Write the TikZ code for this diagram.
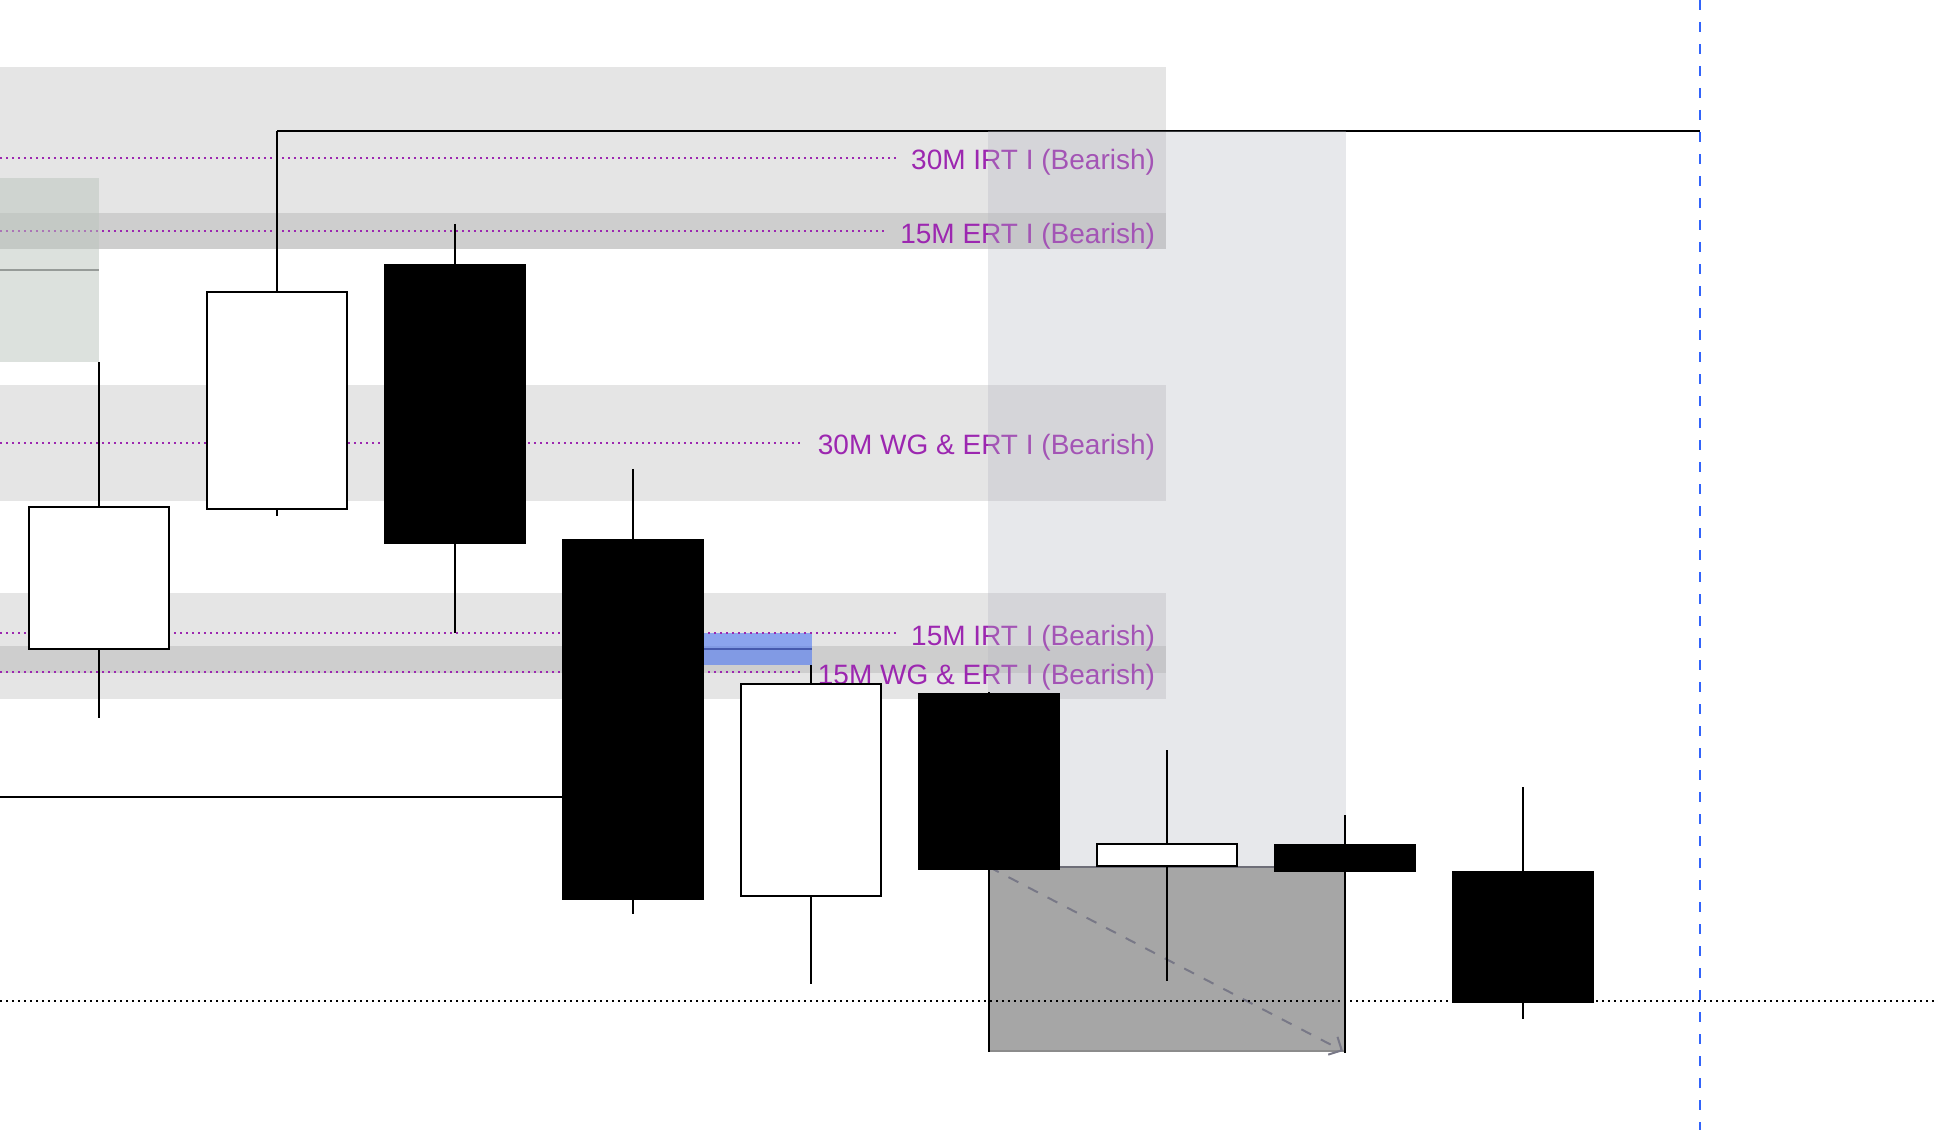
\documentclass[tikz,border=0pt]{standalone}
\usepackage{fontspec}
\setmainfont{Liberation Sans}
\usetikzlibrary{arrows.meta}
\definecolor{zonepurple}{RGB}{156,39,176}
\definecolor{greenzone}{RGB}{186,195,188}
\definecolor{fvgblue}{RGB}{70,115,245}
\definecolor{fvgline}{RGB}{70,90,175}
\definecolor{sessiongray}{RGB}{180,182,192}
\definecolor{boxgray}{RGB}{166,166,166}
\definecolor{nowblue}{RGB}{50,100,250}
\def\candle[#1](#2)(#3:#4:#5:#6){%
	\draw[line width=0.7pt] (#2,#3) -- (#2,#6);
	\draw[line width=0.8pt, fill=#1] ({#2-70},#4) rectangle ({#2+70},#5);}
\tikzset{
	zone/.style={fill=black, fill opacity=0.1},
	zonelvl/.style={zonepurple, line width=0.8pt, dash pattern=on 0.8pt off 1.6pt},
	zonelbl/.style={anchor=base east, text=zonepurple, inner xsep=5.4pt, inner ysep=0pt, font=\fontsize{11.2}{13}\selectfont}
}

\begin{document}
\begin{tikzpicture}[x=0.4pt, y=-0.4pt]
	%%%%% START %%%%%
	\useasboundingbox (0,0) rectangle (1938,1130);
	
	\fill[zone] (0, 66.7) rectangle (1166, 249);
	\fill[zone] (0, 213) rectangle (1166, 249);
	\fill[zone] (0, 385) rectangle (1166, 501);
	\fill[zone] (0, 593) rectangle (1166, 673);
	\fill[zone] (0, 646) rectangle (1166, 699);
	
	\fill[fvgblue, fill opacity=0.57] (704, 632.7) rectangle (811.5, 665);
	\draw[fvgline, line width=0.8pt] (704, 649) -- (811.5, 649);
	
	\node[zonelbl] (irt30) at (1169, 170) {30M IRT I (Bearish)};
	\node[zonelbl] (ert15) at (1169, 243.5) {15M ERT I (Bearish)};
	\node[zonelbl] (wg30) at (1169, 455) {30M WG \& ERT I (Bearish)};
	\node[zonelbl] (irt15) at (1169, 645.5) {15M IRT I (Bearish)};
	\node[zonelbl] (wg15) at (1169, 684) {15M WG \& ERT I (Bearish)};
	\draw[zonelvl] (0, 157.7) -- (irt30.west |- 0,157.7);
	\draw[zonelvl] (0, 231) -- (ert15.west |- 0,231);
	\draw[zonelvl] (0, 442.7) -- (wg30.west |- 0,442.7);
	\draw[zonelvl] (0, 632.7) -- (irt15.west |- 0,632.7);
	\draw[zonelvl] (0, 671.7) -- (wg15.west |- 0,671.7);
	
	\coordinate (swinghigh) at (277, 130.7);
	\coordinate (nowtop) at (1700, 0);
	\coordinate (nowbot) at (1700, 1130);
	\draw[line width=0.8pt] (swinghigh) -- (swinghigh -| nowtop);
	\draw[line width=0.8pt] (0, 797) -- (600, 797);
	
	\fill[greenzone, fill opacity=0.5] (0, 178) rectangle (99, 362);
	\draw[line width=0.8pt, color={rgb,255:red,150;green,155;blue,152}] (0, 270) -- (99, 270);
	
	\fill[sessiongray, fill opacity=0.32] (988, 130.7) rectangle (1345.5, 867);
	
	\fill[boxgray] (989, 867) rectangle (1345, 1052);
	\draw[line width=0.8pt, color={rgb,255:red,110;green,110;blue,120}] (989, 867) -- (1345, 867);
	\draw[line width=0.8pt, color={rgb,255:red,140;green,140;blue,140}] (989, 1051) -- (1345, 1051);
	\draw[line width=0.8pt, color={rgb,255:red,120;green,120;blue,135}, dash pattern=on 4.4pt off 4.4pt, -{Straight Barb[length=4pt, width=8pt]}] (989, 867) -- (1343, 1051);
	
	\draw[line width=0.8pt, dash pattern=on 0.9pt off 1.5pt] (0, 1000.7) -- (1938, 1000.7);
	
	\candle[white](99)(362:507.3:649:717.7)
	\candle[white](277)(130.7:291.7:509:515.7)
	\candle[black](455)(224:265:542.7:632.7)
	\candle[black](633)(469:540:898.5:914)
	\candle[white](811)(665:683.7:895.7:984.3)
	\candle[black](989)(692.3:694:868.7:1052)
	\candle[white](1167)(750:843.7:865.7:980.7)
	\candle[black](1345)(815:845:870.7:1053)
	\candle[black](1523)(787:872:1001.7:1018.7)
	
	\draw[nowblue, line width=0.8pt, dash pattern=on 4pt off 4.8pt] (nowtop) -- (nowbot);
	
	%%%%% END %%%%%
\end{tikzpicture}
\end{document}
